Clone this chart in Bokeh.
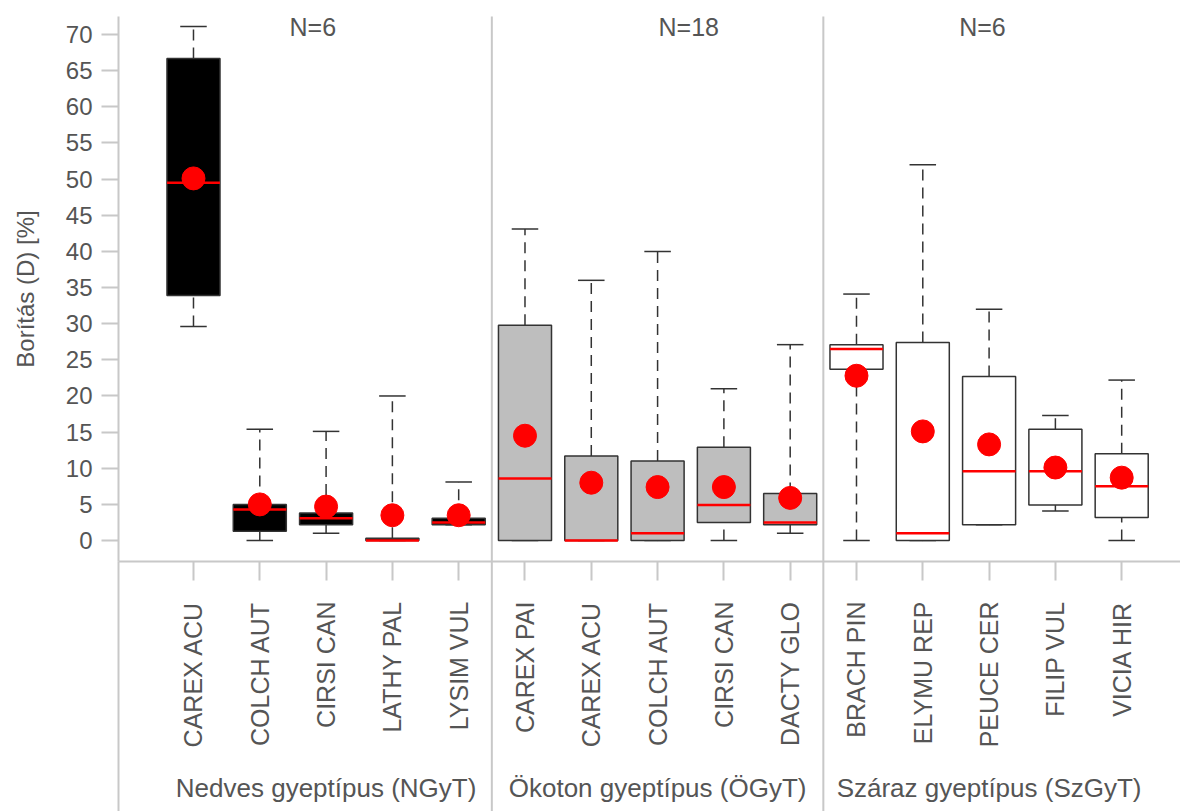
import math
from bokeh.plotting import figure
from bokeh.models import FixedTicker, Range1d
from bokeh.embed import file_html
from bokeh.resources import INLINE
from bokeh.core.properties import value

# ---------------- data ----------------
species = ["CAREX ACU", "COLCH AUT", "CIRSI CAN", "LATHY PAL", "LYSIM VUL",
           "CAREX PAI", "CAREX ACU", "COLCH AUT", "CIRSI CAN", "DACTY GLO",
           "BRACH PIN", "ELYMU REP", "PEUCE CER", "FILIP VUL", "VICIA HIR"]
group_of = [0, 0, 0, 0, 0, 1, 1, 1, 1, 1, 2, 2, 2, 2, 2]
group_names = ["Nedves gyeptípus (NGyT)", "Ökoton gyeptípus (ÖGyT)", "Száraz gyeptípus (SzGyT)"]
group_n = ["N=6", "N=18", "N=6"]

lower  = [29.6, 0.0, 1.0, 0.0, 2.2, 0.0, 0.0, 0.0, 0.0, 1.0, 0.0, 0.0, 2.2, 4.1, 0.0]
q1     = [33.9, 1.3, 2.2, 0.0, 2.2, 0.0, 0.0, 0.0, 2.5, 2.2, 23.7, 0.0, 2.2, 4.9, 3.2]
median = [49.5, 4.3, 3.1, 0.0, 2.5, 8.6, 0.0, 1.0, 4.9, 2.5, 26.5, 1.0, 9.6, 9.6, 7.5]
q3     = [66.7, 5.0, 3.8, 0.3, 3.1, 29.8, 11.7, 11.0, 12.9, 6.5, 27.1, 27.4, 22.7, 15.4, 12.0]
upper  = [71.1, 15.4, 15.1, 20.0, 8.1, 43.1, 36.0, 40.0, 21.0, 27.1, 34.1, 52.0, 32.0, 17.3, 22.2]
mean   = [50.1, 5.0, 4.7, 3.5, 3.5, 14.5, 8.0, 7.4, 7.4, 5.9, 22.8, 15.1, 13.3, 10.1, 8.7]

y_ticks = list(range(0, 75, 5))

# ---------------- styling ----------------
FONT = "Liberation Sans"
TXT = "#555555"
AXC = "#c8c8c8"
group_fill = ["black", "#bebebe", "white"]

pos = list(range(1, len(species) + 1))
fills = [group_fill[g] for g in group_of]

x0, x1 = -0.131, 15.887
y0, y1 = -2.9, 72.5
bottom_px = 250
frame_h = 811 - 16 - bottom_px
px_per_unit = frame_h / (y1 - y0)
y_bottom = y0 - bottom_px / px_per_unit

p = figure(width=1180, height=811, x_range=Range1d(x0, x1), y_range=Range1d(y0, y1),
           output_backend="svg", toolbar_location=None,
           min_border_left=118, min_border_right=0, min_border_top=16,
           min_border_bottom=bottom_px)
p.outline_line_color = None
p.grid.visible = False
p.background_fill_color = "white"
p.border_fill_color = "white"

# y axis
ya = p.yaxis[0]
ya.ticker = FixedTicker(ticks=y_ticks)
ya.axis_line_color = AXC
ya.axis_line_width = 2
ya.major_tick_line_color = AXC
ya.major_tick_line_width = 2
ya.major_tick_out = 17
ya.major_tick_in = 0
ya.minor_tick_line_color = None
ya.major_label_standoff = 9
ya.major_label_text_font = FONT
ya.major_label_text_font_size = "24px"
ya.major_label_text_color = TXT
ya.axis_label = "Borítás (D) [%]"
ya.axis_label_text_font = FONT
ya.axis_label_text_font_size = "24px"
ya.axis_label_text_font_style = "normal"
ya.axis_label_text_color = TXT
ya.axis_label_standoff = 24

# x axis
xa = p.xaxis[0]
xa.ticker = FixedTicker(ticks=pos)
xa.major_label_overrides = {i: s for i, s in zip(pos, species)}
xa.major_label_orientation = math.pi / 2
xa.axis_line_color = AXC
xa.axis_line_width = 2
xa.major_tick_line_color = AXC
xa.major_tick_line_width = 2
xa.major_tick_out = 19
xa.major_tick_in = 0
xa.minor_tick_line_color = None
xa.major_label_standoff = 21
xa.major_label_text_font = FONT
xa.major_label_text_font_size = "25px"
xa.major_label_text_color = TXT

# group separators (extend below the frame) and left line extension
seps = [pos[i] + 0.5 for i in range(len(pos) - 1) if group_of[i] != group_of[i + 1]]
p.segment(x0=seps, y0=[y_bottom] * len(seps), x1=seps, y1=[y1] * len(seps),
          line_color=AXC, line_width=2, level="overlay")
p.segment(x0=[x0], y0=[y_bottom], x1=[x0], y1=[y0],
          line_color=AXC, line_width=2, level="overlay")

# whiskers
dash = "11 7"
p.segment(x0=pos, y0=q3, x1=pos, y1=upper, line_color="#333333", line_width=1.5, line_dash=dash)
p.segment(x0=pos, y0=lower, x1=pos, y1=q1, line_color="#333333", line_width=1.5, line_dash=dash)
cap = 0.2
p.segment(x0=[x - cap for x in pos], y0=upper, x1=[x + cap for x in pos], y1=upper,
          line_color="#333333", line_width=1.5)
p.segment(x0=[x - cap for x in pos], y0=lower, x1=[x + cap for x in pos], y1=lower,
          line_color="#333333", line_width=1.5)

# boxes
p.vbar(x=pos, width=0.8, bottom=q1, top=q3, fill_color=fills, line_color="#333333", line_width=1.5)

# medians
hw = 0.4
p.segment(x0=[x - hw for x in pos], y0=median, x1=[x + hw for x in pos], y1=median,
          line_color="red", line_width=2.5)

# means
p.scatter(x=pos, y=mean, size=23, fill_color="red", line_color="red", marker="circle")

# N labels
n_x = [2.8, 8.47, 12.9]
p.text(x=n_x, y=[71.0] * 3, text=group_n, text_align="center", text_baseline="middle",
       text_font=value(FONT), text_font_size="25px", text_color=TXT)

# group labels below the axis
gx = []
for g in range(len(group_names)):
    members = [x for x, gg in zip(pos, group_of) if gg == g]
    gx.append(sum(members) / len(members))
gy = y0 - (787 - 561) / px_per_unit
p.text(x=gx, y=[gy] * len(gx), text=group_names, text_align="center", text_baseline="middle",
       text_font=value(FONT), text_font_size="26px", text_color=TXT, level="overlay")

open("out.html", "w").write(file_html(p, INLINE))
